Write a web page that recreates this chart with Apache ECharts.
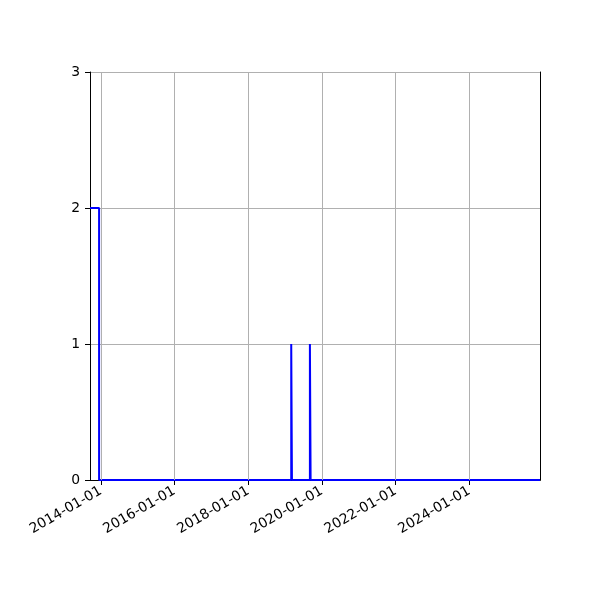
<!DOCTYPE html>
<html>
<head>
<meta charset="utf-8">
<script src="https://cdn.jsdelivr.net/npm/echarts@6/dist/echarts.min.js"></script>
<style>
html,body{margin:0;padding:0;background:#fff;}
#chart{width:600px;height:600px;}
</style>
</head>
<body>
<div id="chart"></div>
<script>
// Data
const dates = ['2013-09-16', '2013-12-15', '2019-03-03', '2019-03-10', '2019-09-04', '2019-09-11', '2025-12-01'];
const counts = [2, 0, 1, 0, 1, 0, 0];
const xTicks = ['2014-01-01', '2016-01-01', '2018-01-01', '2020-01-01', '2022-01-01', '2024-01-01'];
const xMin = '2013-09-16';
const xMax = '2025-12-01';
const yTicks = [0, 1, 2, 3];

const font = 'DejaVu Sans';
const toTs = s => { const [y, m, d] = s.split('-').map(Number); return Date.UTC(y, m - 1, d); };
function fmtDate(v) {
  const d = new Date(v);
  const p = n => (n < 10 ? '0' : '') + n;
  return d.getUTCFullYear() + '-' + p(d.getUTCMonth() + 1) + '-' + p(d.getUTCDate());
}
const tickTs = xTicks.map(toTs);
const blackLine = {show: true, lineStyle: {color: '#000', width: 1}};

const chart = echarts.init(document.getElementById('chart'), null, {renderer: 'canvas'});
chart.setOption({
  animation: false,
  backgroundColor: '#fff',
  grid: {left: 90, right: 60, top: 72, bottom: 120, show: false, containLabel: false},
  xAxis: [{
    type: 'value',
    min: toTs(xMin),
    max: toTs(xMax),
    axisLine: blackLine,
    axisTick: {show: true, length: 5, lineStyle: {color: '#000', width: 1}, customValues: tickTs},
    axisLabel: {
      show: true, customValues: tickTs, rotate: 30, margin: 10,
      color: '#000', fontFamily: font, fontSize: 13.9,
      formatter: fmtDate, hideOverlap: false
    },
    splitLine: {show: false},
    minorTick: {show: false}
  }, {
    type: 'value',
    position: 'top',
    min: toTs(xMin),
    max: toTs(xMax),
    axisLine: blackLine,
    axisTick: {show: false},
    axisLabel: {show: false},
    splitLine: {show: false}
  }],
  yAxis: [{
    type: 'value',
    min: yTicks[0],
    max: yTicks[yTicks.length - 1],
    interval: 1,
    axisLine: blackLine,
    axisTick: {show: true, length: 5, lineStyle: {color: '#000', width: 1}},
    axisLabel: {color: '#000', fontFamily: font, fontSize: 13.9, margin: 10},
    splitLine: {show: true, lineStyle: {color: '#b0b0b0', width: 1}}
  }, {
    type: 'value',
    position: 'right',
    min: yTicks[0],
    max: yTicks[yTicks.length - 1],
    interval: 1,
    axisLine: blackLine,
    axisTick: {show: false},
    axisLabel: {show: false},
    splitLine: {show: false}
  }],
  series: [
    {
      type: 'line',
      data: [],
      z: 1,
      silent: true,
      markLine: {
        silent: true,
        symbol: ['none', 'none'],
        label: {show: false},
        animation: false,
        lineStyle: {color: '#b0b0b0', width: 1, type: 'solid'},
        emphasis: {disabled: true},
        data: tickTs.map(t => ({xAxis: t}))
      }
    },
    {
      type: 'line',
      z: 3,
      step: 'end',
      showSymbol: false,
      symbol: 'none',
      lineStyle: {color: '#0000ff', width: 2},
      itemStyle: {color: '#0000ff'},
      data: dates.map((d, i) => [toTs(d), counts[i]])
    }
  ]
});
</script>
</body>
</html>
